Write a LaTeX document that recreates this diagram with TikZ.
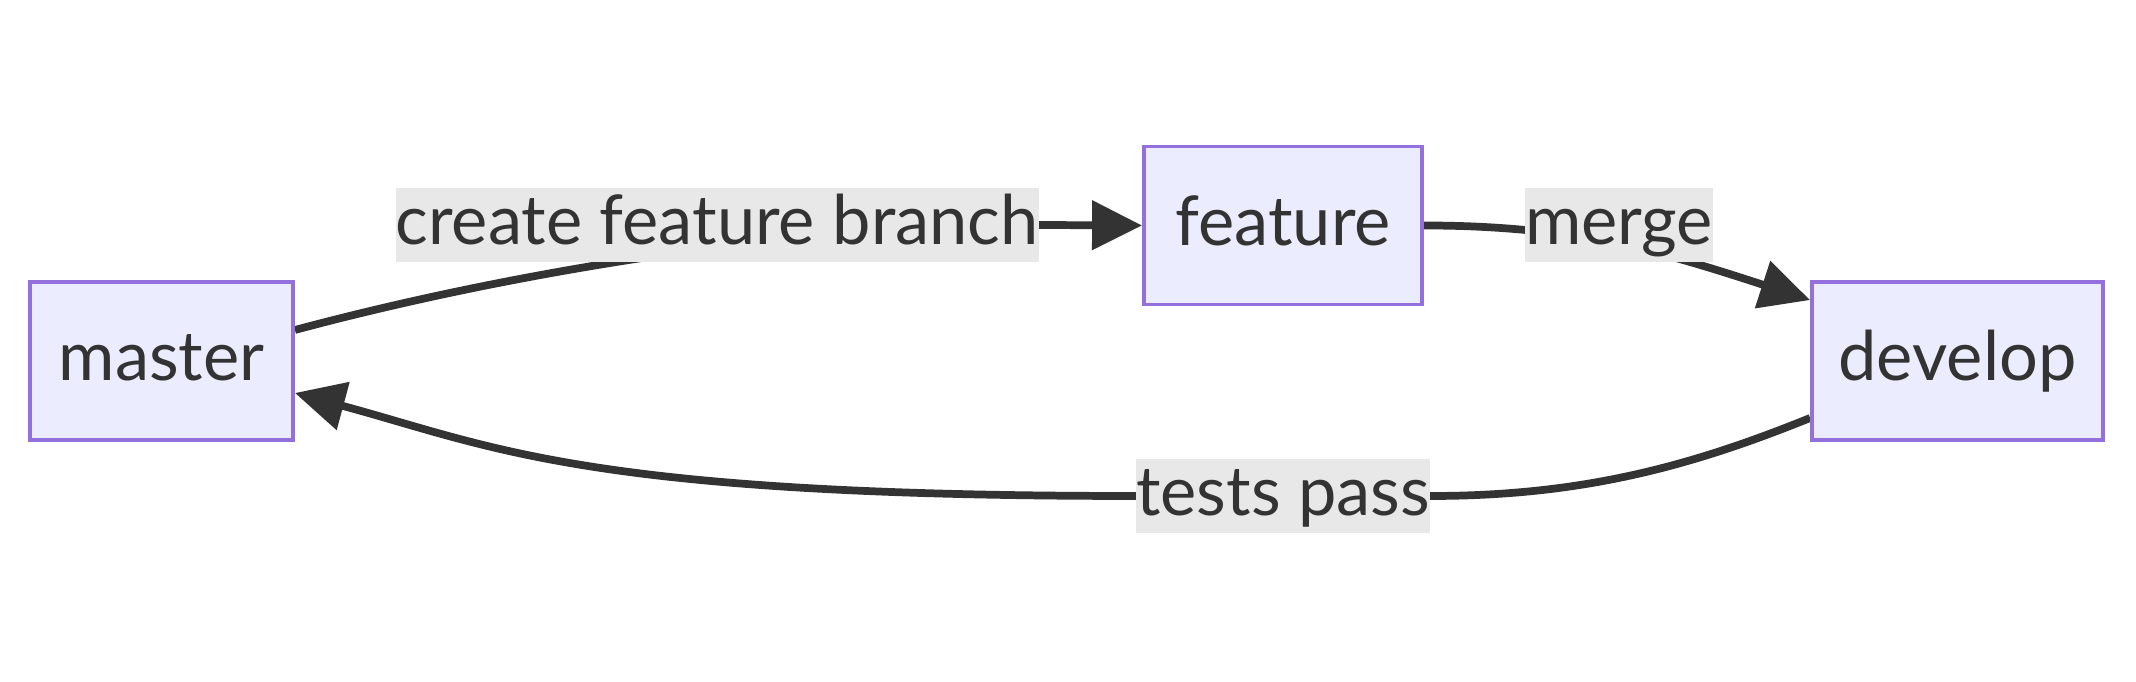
\documentclass[tikz,border=0pt]{standalone}
\usepackage{fontspec}
\setmainfont{Lato}
\usetikzlibrary{arrows.meta,backgrounds}
\definecolor{nodefill}{HTML}{ECECFF}
\definecolor{nodeline}{HTML}{9370DB}
\definecolor{lblfill}{HTML}{E8E8E8}
\definecolor{ink}{HTML}{333333}

\begin{document}
\begin{tikzpicture}[>={Triangle[length=5mm,width=4.8mm]},
        font=\fontsize{19.5}{23}\selectfont, text=ink,
        box/.style={draw=nodeline, fill=nodefill, line width=1.1pt,
                    minimum height=1.58cm, text height=0.57cm, text depth=0.17cm},
        lbl/.style={fill=lblfill, inner xsep=0pt, inner ysep=0pt,
                    text height=0.57cm, text depth=0.17cm},
        link/.style={draw=ink, line width=2.2pt}]
        \useasboundingbox (0,0) rectangle (21.36,6.82);
        \node[box, minimum width=2.63cm] (master)  at (1.615,3.21) {master};
        \node[box, minimum width=2.78cm] (feature) at (12.83,4.565) {feature};
        \node[box, minimum width=2.91cm] (develop) at (19.575,3.21) {develop};
        \node[lbl] (create) at (7.17,4.57)  {create feature branch};
        \node[lbl] (merge)  at (16.19,4.57) {merge};
        \node[lbl] (tests)  at (12.83,1.86) {tests pass};
        \begin{pgfonlayer}{background}
            \fill[white] (0,0) rectangle (21.36,6.82);
            \draw[link,->] ([yshift=0.31cm]master.east)
                .. controls +(15:2.4) and +(-2.3,0) .. (create.east) -- (feature.west);
            \draw[link,->] (feature.east) to[out=0, in=162] ([yshift=-0.2cm]develop.north west);
            \draw[link,->] ([yshift=-0.57cm]develop.west)
                .. controls +(-1.21,-0.49) and +(1.5,0) .. (tests.east)
                -- (tests.west)
                .. controls +(-5.5,0) and +(2.0,-0.54) .. ([yshift=-0.32cm]master.east);
        \end{pgfonlayer}
    \end{tikzpicture}
\end{document}
